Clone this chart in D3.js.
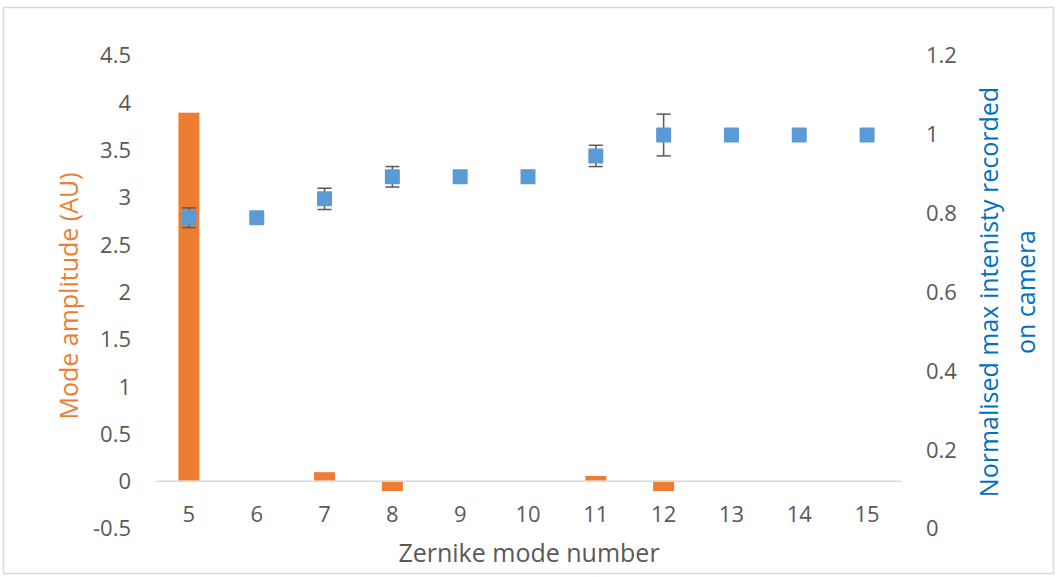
<!DOCTYPE html>
<html><head><meta charset="utf-8">
<script src="https://cdn.jsdelivr.net/npm/d3@7"></script>
<style>body{margin:0;background:#fff;} text{font-family:"Open Sans","Noto Sans",sans-serif;}</style>
</head><body>
<svg id="c" width="1058" height="577"></svg>
<script>
const modes = [5,6,7,8,9,10,11,12,13,14,15];
const amplitude = [3.89,0,0.09,-0.11,0,0,0.05,-0.11,0,0,0];
const intensity = [0.787,0.787,0.835,0.891,0.891,0.891,0.944,0.997,0.997,0.997,0.997];
const intensityErr = [0.025,0,0.027,0.026,0,0,0.027,0.053,0,0,0];
const leftTicks = [-0.5,0,0.5,1,1.5,2,2.5,3,3.5,4,4.5];
const rightTicks = [0,0.2,0.4,0.6,0.8,1,1.2];

const svg = d3.select("#c");
svg.append("rect").attr("x",3.5).attr("y",7.5).attr("width",1050).attr("height",566)
  .attr("fill","#fff").attr("stroke","#d9d9d9").attr("stroke-width",1.5);

const x = d3.scaleBand().domain(modes).range([155,901]);
const yL = d3.scaleLinear().domain([-0.5,4.5]).range([528,55]);
const yR = d3.scaleLinear().domain([0,1.2]).range([528,55]);
const tc = "#595959";

// left axis
const gL = svg.append("g").attr("transform","translate(131,0)")
  .call(d3.axisLeft(yL).tickValues(leftTicks).tickSize(0).tickPadding(0).tickFormat(d=>String(d)));
gL.select(".domain").remove();
gL.selectAll("text").attr("fill",tc).style("font-size","22px").attr("dy","0.36em");

// right axis
const gR = svg.append("g").attr("transform","translate(926,0)")
  .call(d3.axisRight(yR).tickValues(rightTicks).tickSize(0).tickPadding(0).tickFormat(d=>String(d)));
gR.select(".domain").remove();
gR.selectAll("text").attr("fill",tc).style("font-size","22px").attr("dy","0.36em");

// bars
const bw = 21;
svg.append("g").selectAll("rect").data(modes.map((m,i)=>({m,v:amplitude[i]})).filter(d=>d.v!==0))
  .join("rect")
  .attr("x",d=>x(d.m)+x.bandwidth()/2-bw/2).attr("width",bw)
  .attr("y",d=>Math.min(yL(d.v),yL(0))).attr("height",d=>Math.abs(yL(d.v)-yL(0)))
  .attr("fill","#ED7D31");

// zero axis line
const gX = svg.append("g").attr("transform",`translate(0,${yL(0)})`)
  .call(d3.axisBottom(x).tickSize(0).tickPadding(0));
gX.select(".domain").attr("stroke","#d9d9d9").attr("stroke-width",1.5);
gX.selectAll("text").remove();
// x tick labels
svg.append("g").selectAll("text").data(modes).join("text")
  .attr("x",d=>x(d)+x.bandwidth()/2).attr("y",522).attr("text-anchor","middle")
  .attr("fill",tc).style("font-size","22px").text(d=>d);

// error bars
const pts = modes.map((m,i)=>({m,v:intensity[i],e:intensityErr[i]}));
const eg = svg.append("g").attr("stroke","#595959").attr("stroke-width",1.5);
pts.filter(d=>d.e>0).forEach(d=>{
  const cx = x(d.m)+x.bandwidth()/2;
  eg.append("line").attr("x1",cx).attr("x2",cx).attr("y1",yR(d.v+d.e)).attr("y2",yR(d.v-d.e));
  eg.append("line").attr("x1",cx-7).attr("x2",cx+7).attr("y1",yR(d.v+d.e)).attr("y2",yR(d.v+d.e));
  eg.append("line").attr("x1",cx-7).attr("x2",cx+7).attr("y1",yR(d.v-d.e)).attr("y2",yR(d.v-d.e));
});
// markers
const ms = 15;
svg.append("g").selectAll("rect").data(pts).join("rect")
  .attr("x",d=>x(d.m)+x.bandwidth()/2-ms/2).attr("y",d=>yR(d.v)-ms/2)
  .attr("width",ms).attr("height",ms).attr("rx",1)
  .attr("fill","#5B9BD5");

// titles
svg.append("text").attr("transform","translate(78,296) rotate(-90)").attr("text-anchor","middle")
  .attr("fill","#ED7D31").style("font-size","25px").text("Mode amplitude (AU)");
svg.append("text").attr("transform","translate(998,292) rotate(-90)").attr("text-anchor","middle")
  .attr("fill","#0070C0").style("font-size","25px").text("Normalised max intenisty recorded");
svg.append("text").attr("transform","translate(1035,292) rotate(-90)").attr("text-anchor","middle")
  .attr("fill","#0070C0").style("font-size","25px").text("on camera");
svg.append("text").attr("x",529).attr("y",562).attr("text-anchor","middle")
  .attr("fill",tc).style("font-size","25px").text("Zernike mode number");
</script>
</body></html>
